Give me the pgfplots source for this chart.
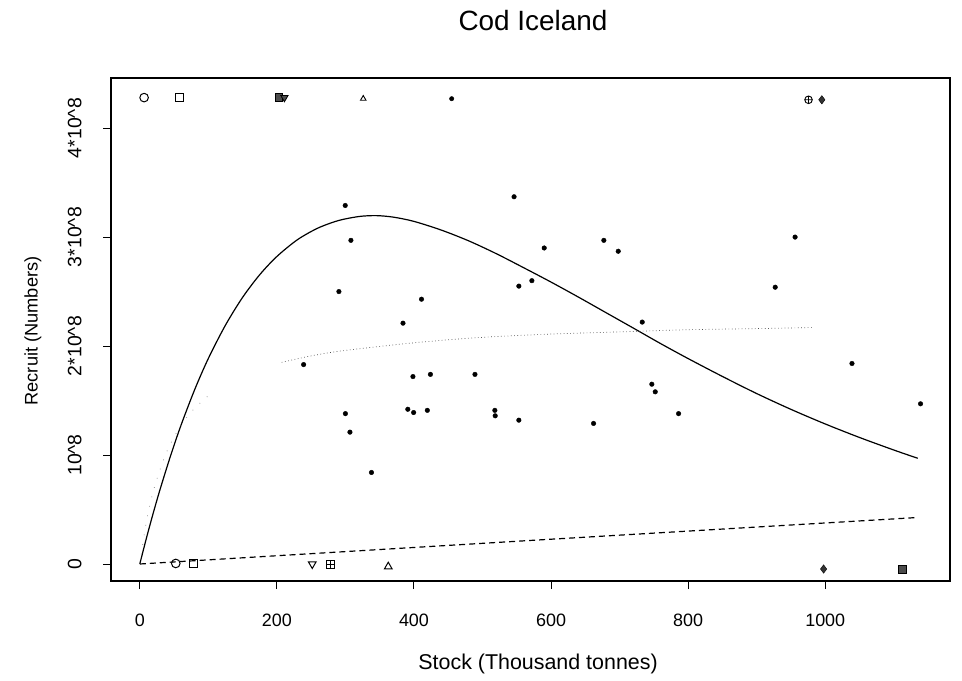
\documentclass[border=0pt]{standalone}
\usepackage{pgfplots}
\pgfplotsset{compat=1.18}
\usepackage{fontspec}
\setmainfont{Liberation Sans}
\pgfdeclareplotmark{boxplus}{%
  \pgfpathrectangle{\pgfqpoint{-\pgfplotmarksize}{-\pgfplotmarksize}}{\pgfqpoint{2\pgfplotmarksize}{2\pgfplotmarksize}}%
  \pgfpathmoveto{\pgfqpoint{-\pgfplotmarksize}{0pt}}\pgfpathlineto{\pgfqpoint{\pgfplotmarksize}{0pt}}%
  \pgfpathmoveto{\pgfqpoint{0pt}{-\pgfplotmarksize}}\pgfpathlineto{\pgfqpoint{0pt}{\pgfplotmarksize}}%
  \pgfusepathqstroke}
\begin{document}
\begin{tikzpicture}
\path[use as bounding box] (0,0) rectangle (962bp,681bp);
\begin{axis}[
  at={(111bp,100bp)}, anchor=south west,
  scale only axis, width=839bp, height=503bp,
  xmin=-42, xmax=1182, ymin=-0.156, ymax=4.46,
  axis line style={line width=1.3bp},
  tick align=outside, major tick length=8bp,
  tick style={line width=1bp, black},
  xtick pos=bottom, ytick pos=left,
  xtick={0,200,400,600,800,1000},
  xticklabels={0,200,400,600,800,1000},
  ytick={0,1,2,3,4},
  yticklabels={0,10\textasciicircum 8,2*10\textasciicircum 8,3*10\textasciicircum 8,4*10\textasciicircum 8},
  xticklabel style={font=\fontsize{18}{21}\selectfont, yshift=-21bp},
  yticklabel style={font=\fontsize{19.5}{22}\selectfont, rotate=90, anchor=south, yshift=18bp},
  title={Cod Iceland},
  title style={font=\fontsize{28}{32}\selectfont, at={(axis description cs:0.503,1.103)}, anchor=center},
  xlabel={Stock (Thousand tonnes)},
  xlabel style={font=\fontsize{21.5}{24}\selectfont, at={(axis description cs:0.509,-0.165)}, anchor=center},
  ylabel={Recruit (Numbers)},
  ylabel style={font=\fontsize{18.3}{21}\selectfont, at={(axis description cs:-0.093,0.497)}, anchor=center, rotate=0},
  clip=false,
]
% solid curve
\addplot[black, line width=1.2bp, smooth, tension=0.5] coordinates {
(0,0) (10,0.245) (20,0.476) (30,0.693) (45,0.995) (60,1.271) (80,1.599)
(100,1.886) (125,2.192) (150,2.447) (175,2.655) (200,2.822) (230,2.976)
(260,3.083) (290,3.152) (320,3.189) (345,3.197) (370,3.183) (400,3.144)
(440,3.064) (480,2.965) (520,2.848) (560,2.719) (600,2.587) (640,2.449)
(680,2.307) (720,2.165) (760,2.022) (800,1.885) (850,1.721) (900,1.564)
(950,1.419) (1000,1.285) (1050,1.161) (1100,1.046) (1135,0.970)};
% dotted curve (left sparse part)
\addplot[gray, line width=0.7bp, dash pattern=on 0.7bp off 9bp, smooth] coordinates {
(0,0) (10,0.40) (22,0.72) (40,1.04) (60,1.27) (80,1.43) (105,1.57)};
% dotted curve (right part)
\addplot[black!70, line width=0.7bp, dash pattern=on 0.7bp off 2.6bp, smooth] coordinates {
(207,1.85) (250,1.91) (300,1.96) (400,2.03) (500,2.08) (600,2.11) (700,2.13)
(800,2.15) (900,2.16) (980,2.17)};
% dashed line
\addplot[black, line width=1.2bp, dash pattern=on 6bp off 4bp] coordinates {
(0,0) (580,0.22) (1130,0.425)};
% data points
\addplot[only marks, mark=*, mark size=2.3bp, black] coordinates {
(299.7,3.29) (308,2.97) (290.5,2.50) (411,2.43) (384,2.21) (239,1.83)
(398.5,1.72) (424,1.74) (489,1.74) (300,1.38) (306.6,1.21) (391,1.42)
(399.5,1.39) (419.5,1.41) (518,1.41) (518.5,1.36) (553,1.32) (338,0.84)
(546,3.37) (590,2.90) (553,2.55) (572,2.60) (677,2.97) (698,2.87)
(733,2.22) (747,1.65) (752,1.58) (662,1.29) (786,1.38) (956,3.00)
(927,2.54) (1039,1.84) (1139,1.47)};
\addplot[only marks, mark=*, mark size=2.2bp, black] coordinates {(455,4.27)};
% top row symbols
\addplot[only marks, mark=o, mark size=4.3bp, black, line width=1bp] coordinates {(6.3,4.28)};
\addplot[only marks, mark=square, mark size=4bp, black, line width=1bp] coordinates {(58.4,4.28)};
\addplot[only marks, mark=square*, mark size=3.8bp, black, fill=black!70, line width=0.8bp] coordinates {(203,4.28)};
\addplot[only marks, mark=triangle*, mark size=4.2bp, black, fill=black!70, line width=0.8bp, mark options={rotate=180}] coordinates {(211,4.28)};
\addplot[only marks, mark=triangle, mark size=3.2bp, black, line width=0.9bp] coordinates {(326,4.27)};
\addplot[only marks, mark=oplus, mark size=3.8bp, black, line width=0.9bp] coordinates {(975.6,4.26)};
\addplot[only marks, mark=diamond*, mark size=4.2bp, black, fill=black!80] coordinates {(995,4.26)};
% bottom row symbols
\addplot[only marks, mark=o, mark size=4.3bp, black, line width=1bp] coordinates {(52.5,0.005)};
\addplot[only marks, mark=square, mark size=4bp, black, line width=1bp] coordinates {(78,0.005)};
\addplot[only marks, mark=triangle, mark size=4.5bp, black, line width=1bp, mark options={rotate=180}] coordinates {(251.6,0.0)};
\addplot[only marks, mark=boxplus, mark size=3.8bp, black, line width=1bp] coordinates {(278.4,-0.005)};
\addplot[only marks, mark=triangle, mark size=4.5bp, black, line width=1bp] coordinates {(362.5,-0.025)};
\addplot[only marks, mark=diamond*, mark size=4.2bp, black, fill=black!80] coordinates {(997.6,-0.046)};
\addplot[only marks, mark=square*, mark size=3.8bp, black, fill=black!70] coordinates {(1112,-0.046)};
\end{axis}
\end{tikzpicture}
\end{document}
